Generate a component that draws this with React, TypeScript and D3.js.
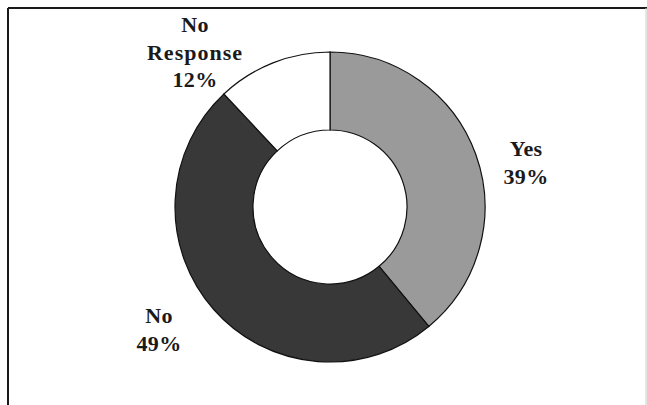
import React from "react";
import * as d3 from "d3";

const categories = ["Yes", "No", "No Response"];
const values = [39, 49, 12];
const labelLines = [["Yes", "39%"], ["No", "49%"], ["No", "Response", "12%"]];
const colors = ["#9a9a9a", "#383838", "#ffffff"];

const W = 647;
const H = 405;

export default function App() {
  const cx = 330;
  const cy = 207;
  const outerR = 155;
  const innerR = 77;

  const data = categories.map((c, i) => ({ name: c, value: values[i], color: colors[i], lines: labelLines[i] }));
  const pie = d3.pie<any>().sort(null).value((d: any) => d.value);
  const arcs = pie(data);
  const arcGen = d3.arc<any>().innerRadius(innerR).outerRadius(outerR);

  // label anchor positions (centers of text blocks) and baselines
  const labelPos: { x: number; y: number }[] = [
    { x: 526, y: 156 },
    { x: 159, y: 323 },
    { x: 195, y: 32 },
  ];
  const lineH = [28, 28, 27.5];

  return (
    <svg
      width={W}
      height={H}
      style={{ position: "absolute", left: 0, top: 0, display: "block", background: "#ffffff" }}
    >
      <rect x={0} y={0} width={W} height={H} fill="#ffffff" />
      <line x1={8} y1={8} x2={W} y2={8} stroke="#1a1a1a" strokeWidth={2} />
      <line x1={8} y1={8} x2={8} y2={H} stroke="#1a1a1a" strokeWidth={2} />
      <line x1={646} y1={8} x2={646} y2={H} stroke="#cccccc" strokeWidth={1} />
      <g transform={`translate(${cx},${cy})`}>
        {arcs.map((a, i) => (
          <path key={i} d={arcGen(a) as string} fill={a.data.color} stroke="#111" strokeWidth={1.2} />
        ))}
      </g>
      {data.map((d, i) => (
        <text
          key={i}
          textAnchor="middle"
          fontFamily="'Liberation Serif', 'Times New Roman', serif"
          fontWeight="bold"
          fontSize={22}
          fill="#1a1a1a"
        >
          {d.lines.map((ln, j) => (
            <tspan
              key={j}
              x={labelPos[i].x}
              y={labelPos[i].y + j * lineH[i]}
              letterSpacing={ln === "Response" ? 1 : 0.3}
            >
              {ln}
            </tspan>
          ))}
        </text>
      ))}
    </svg>
  );
}
